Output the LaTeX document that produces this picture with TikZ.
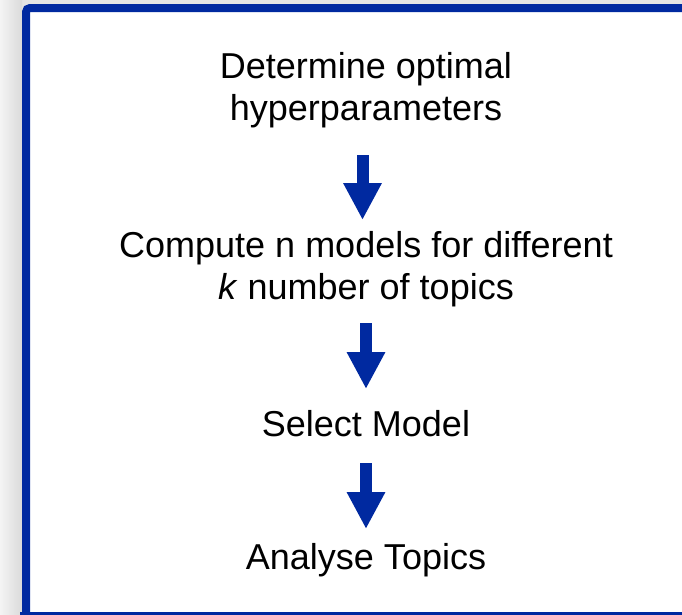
\documentclass[tikz,border=0pt]{standalone}
\usepackage{fontspec}
\setmainfont{Liberation Sans}
\usetikzlibrary{arrows.meta}
\definecolor{frameblue}{RGB}{0,41,160}
\definecolor{bggray}{RGB}{228,228,228}
\begin{document}
\begin{tikzpicture}[x=1pt,y=-1pt,
  lbl/.style={inner sep=0pt, align=center, anchor=north, font=\fontsize{36}{42}\selectfont},
  blockarrow/.style={draw=frameblue, line width=12pt, -{Triangle[width=36pt,length=37pt]}, color=frameblue}]
\useasboundingbox (0,0) rectangle (682,614);
\clip (0,0) rectangle (682,614);
% background
\fill[bggray] (0,0) rectangle (682,614);
\shade[left color={rgb,255:red,244;green,244;blue,244}, right color={rgb,255:red,218;green,218;blue,218}] (0,0) rectangle (22,614);
\fill[white] (26,8) rectangle (700,630);
% frame
\draw[frameblue, line width=8pt, rounded corners=4pt] (26,630) -- (26,8) -- (700,8);
\draw[frameblue, line width=8pt] (20,615.5) -- (700,615.5);
% text nodes
\node[lbl] (t1) at (366,52) {Determine optimal\\hyperparameters};
\node[lbl] (t2) at (366,231.5) {Compute n models for different\\\textit{k} number of topics};
\node[lbl] (t3) at (366,410) {Select Model};
\node[lbl] (t4) at (366,543.5) {Analyse Topics};
% arrows
\coordinate (a1s) at (362.5,155);
\coordinate (a1e) at (362.5,220);
\coordinate (a2s) at (366,323);
\coordinate (a2e) at (366,389);
\coordinate (a3s) at (366,463);
\coordinate (a3e) at (366,529);
\draw[blockarrow] (a1s) -- (a1e);
\draw[blockarrow] (a2s) -- (a2e);
\draw[blockarrow] (a3s) -- (a3e);
\end{tikzpicture}
\end{document}
